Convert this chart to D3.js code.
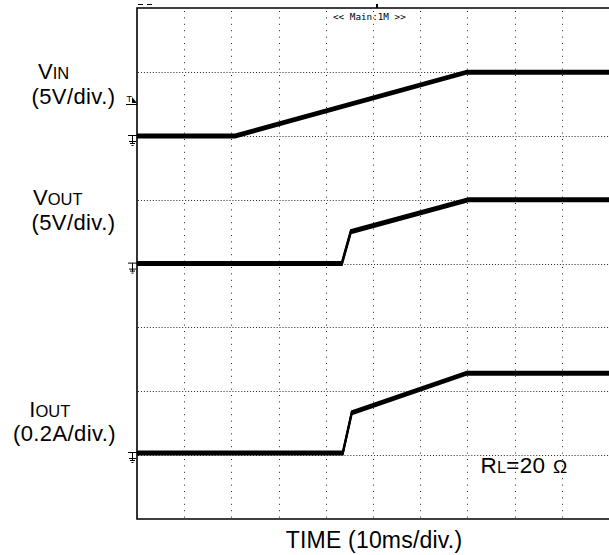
<!DOCTYPE html>
<html>
<head>
<meta charset="utf-8">
<script src="https://cdn.jsdelivr.net/npm/d3@7"></script>
<style>
  html, body { margin: 0; padding: 0; background: #fff; }
  svg { display: block; }
</style>
</head>
<body>
<svg id="chart" width="609" height="555"></svg>
<script>
// ---------------- data ----------------
const timeTicks = [0, 10, 20, 30, 40, 50, 60, 70, 80, 90, 100];   // ms (10 ms/div)
const vinTime  = [0, 20.8, 69.9, 100];
const vinVolt  = [0, 0, 5.0, 5.0];
const voutTime = [0, 43.4, 45.3, 70.2, 100];
const voutVolt = [0, 0, 2.5, 5.0, 5.0];
const ioutTime = [0, 43.6, 45.5, 69.9, 100];
const ioutAmp  = [0, 0, 0.126, 0.25, 0.25];
const vDivs = [0, 1, 2, 3, 4, 5, 6, 7, 8];
const xTitle = "TIME (10ms/div.)";
const topText = "<< Main:1M >>";

// ---------------- layout ----------------
const L = 137, R = 609, T = 8, B = 519;
const divPx = (B - T) / 8;
const svg = d3.select("#chart");
const font = "'Liberation Sans', Arial, sans-serif";

const x = d3.scaleLinear().domain([0, 100]).range([L, R]);
const yDiv = d3.scaleLinear().domain([0, 8]).range([T, B]);

// grid
const grid = svg.append("g");
grid.selectAll("line.h").data(vDivs.slice(1, 8)).join("line")
  .attr("x1", L + 1).attr("x2", R)
  .attr("y1", d => Math.round(yDiv(d)) + 0.5).attr("y2", d => Math.round(yDiv(d)) + 0.5)
  .attr("stroke", "#222").attr("stroke-width", 1).attr("stroke-dasharray", "1,1.95");
grid.selectAll("line.v").data(timeTicks.slice(1, 10)).join("line")
  .attr("y1", T + 3).attr("y2", B)
  .attr("x1", d => Math.round(x(d)) + 0.5).attr("x2", d => Math.round(x(d)) + 0.5)
  .attr("stroke", "#222").attr("stroke-width", 1).attr("stroke-dasharray", "1,5.4");

// channels
const channels = [
  { t: vinTime,  v: vinVolt,  perDiv: 5,   ground: 136 },
  { t: voutTime, v: voutVolt, perDiv: 5,   ground: 263.6 },
  { t: ioutTime, v: ioutAmp,  perDiv: 0.2, ground: 453 }
];
const traces = svg.append("g");
channels.forEach(ch => {
  const y = d3.scaleLinear().domain([0, ch.perDiv]).range([ch.ground, ch.ground - divPx]);
  const pts = ch.t.map((t, i) => [t, ch.v[i]]);
  const line = d3.line().x(d => x(d[0])).y(d => y(d[1]));
  [-1.6, -0.5, 0.6, 1.6].forEach(dy => {
    traces.append("path").attr("d", line(pts))
      .attr("transform", `translate(0,${dy})`)
      .attr("fill", "none").attr("stroke", "#000")
      .attr("stroke-width", 1.8).attr("stroke-linejoin", "miter");
  });
  // ground marker
  const g = ch.ground;
  const gm = svg.append("g").attr("stroke", "#000").attr("stroke-width", 1).attr("fill", "none");
  gm.append("path").attr("d", `M128,${g - 0.5}H137M132.5,${g - 0.5}V${g + 8}`);
  gm.append("path").attr("d", `M129,${g + 5.5}H136M130,${g + 7.5}H135M131.5,${g + 9.5}H133.5`);
});

// frame
svg.append("path")
  .attr("d", `M${R},${T}H${L}V${B}H${R}`)
  .attr("fill", "none").attr("stroke", "#000").attr("stroke-width", 1.6);

// top markers
svg.append("path").attr("d", "M138,4.5H143M147,4.5H152").attr("stroke", "#000").attr("stroke-width", 1);
svg.append("rect").attr("x", 376).attr("y", 4).attr("width", 2).attr("height", 4).attr("fill", "#000");
svg.append("text").attr("x", 333).attr("y", 20)
  .attr("font-family", "'DejaVu Sans Mono', monospace").attr("font-size", 9.3)
  .attr("fill", "#000").text(topText);

// trigger marker
svg.append("text").attr("x", 126.5).attr("y", 102).attr("font-family", font)
  .attr("font-size", 9).attr("fill", "#000").text("T");
svg.append("path").attr("d", "M126,104.5H137").attr("stroke", "#000").attr("stroke-width", 1);
svg.append("path").attr("d", "M132,97L137,103L132,103Z").attr("fill", "#000");

// channel labels
function label(xp, yp, parts, ls) {
  const t = svg.append("text").attr("x", xp).attr("y", yp).attr("font-family", font)
    .attr("fill", "#000").attr("letter-spacing", ls || 0);
  parts.forEach(p => t.append("tspan").attr("font-size", p[1]).text(p[0]));
  return t;
}
label(38, 79, [["V", 22], ["IN", 16.5]]);
label(31.5, 103.5, [["(5V/div.)", 22]], 0.4);
label(33, 205, [["V", 22], ["OUT", 16.5]]);
label(31.5, 229.5, [["(5V/div.)", 22]], 0.4);
label(29.3, 416.5, [["I", 22], ["OUT", 16.5]]);
label(13, 441, [["(0.2A/div.)", 22]], 0.4);
label(480.5, 473.3, [["R", 22.5], ["L", 16.5], ["=20", 22.5]], 0.2);
svg.append("text").attr("x", 553).attr("y", 473.3).attr("font-family", font)
  .attr("font-size", 19).attr("fill", "#000").text("Ω");

// x title
svg.append("text").attr("x", (L + R) / 2 + 1).attr("y", 548.3)
  .attr("text-anchor", "middle").attr("font-family", font).attr("font-size", 23)
  .attr("letter-spacing", 0.2).attr("fill", "#000").text(xTitle);
</script>
</body>
</html>
